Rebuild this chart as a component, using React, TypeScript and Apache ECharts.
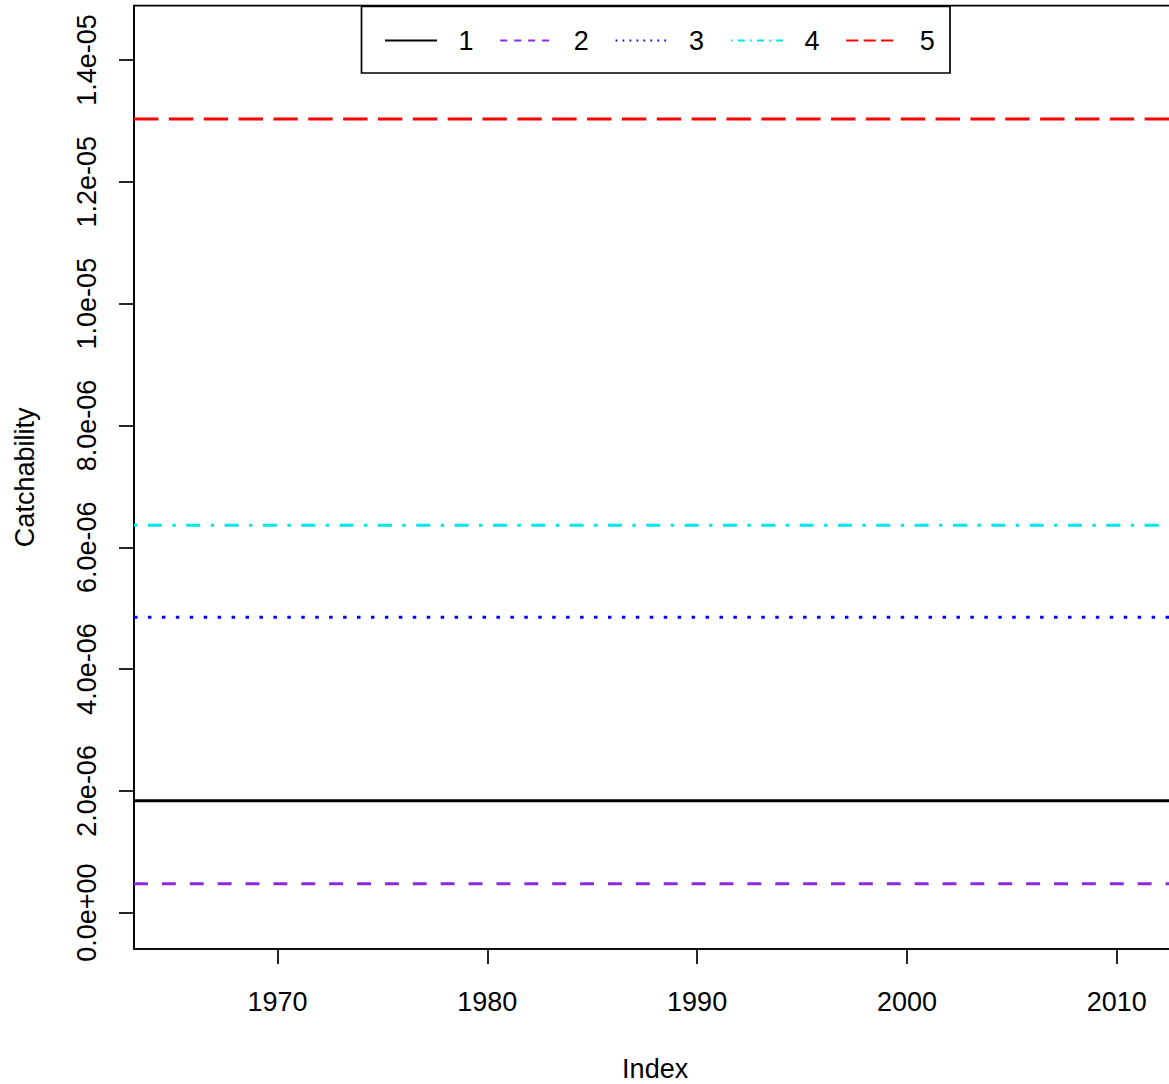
import React, { useEffect, useRef } from "react";
import * as echarts from "echarts";

// ---- data ----
const seriesNames = ["1", "2", "3", "4", "5"];
const catchability = [1.84e-6, 0.477e-6, 4.85e-6, 6.36e-6, 13.03e-6];
const seriesColors = ["#000000", "#8A2BE2", "#0000FF", "#00E5EE", "#FF0000"];
const yTicks = [0, 2e-6, 4e-6, 6e-6, 8e-6, 1e-5, 1.2e-5, 1.4e-5];
const yTickLabels = ["0.0e+00", "2.0e-06", "4.0e-06", "6.0e-06", "8.0e-06", "1.0e-05", "1.2e-05", "1.4e-05"];
const xTicks = [1970, 1980, 1990, 2000, 2010];
const xTickLabels = ["1970", "1980", "1990", "2000", "2010"];
const xMin = 1963.16;
const xMax = 2012.84;
const yMin = -0.596e-6;
const yMax = 1.4892e-5;

// R line types (in line-width units)
const ltyPatterns: (number[] | null)[] = [null, [4, 4], [1, 3], [1, 3, 4, 3], [7, 3]];

const FONT = "'Liberation Sans', Arial, sans-serif";

export default function App() {
  const ref = useRef<HTMLDivElement>(null);
  useEffect(() => {
    if (!ref.current) return;
    const chart = echarts.init(ref.current, undefined, { renderer: "svg" });
    const u = 3.485;
    const uL = 1.74;
    // horizontal reference lines (abline h=...) spanning the full x range
    const series = seriesNames.map((name, i) => ({
      name,
      type: "line",
      data: [
        [xMin, catchability[i]],
        [xMax, catchability[i]],
      ],
      symbol: "none",
      silent: true,
      lineStyle: {
        color: seriesColors[i],
        width: 3,
        type: ltyPatterns[i] ? ltyPatterns[i]!.map((d) => d * u) : "solid",
        cap: "butt",
      },
    }));

    // legend drawn as graphic
    const legendEls: any[] = [
      {
        type: "rect",
        shape: { x: 361.5, y: 6.5, width: 588.5, height: 66.5 },
        style: { fill: "#fff", stroke: "#000", lineWidth: 1.7 },
        z: 100,
      },
    ];
    seriesNames.forEach((name, i) => {
      const x0 = 385 + i * 115.3;
      legendEls.push({
        type: "line",
        shape: { x1: x0, y1: 40.5, x2: x0 + 52, y2: 40.5 },
        style: {
          stroke: seriesColors[i],
          lineWidth: 1.8,
          lineDash: ltyPatterns[i] ? ltyPatterns[i]!.map((d) => d * uL) : null,
        },
        z: 101,
      });
      legendEls.push({
        type: "text",
        x: x0 + 81,
        y: 41,
        style: {
          text: name,
          font: `27px ${FONT}`,
          fill: "#000",
          textAlign: "center",
          textVerticalAlign: "middle",
        },
        z: 101,
      });
    });

    chart.setOption({
      animation: false,
      backgroundColor: "#fff",
      grid: {
        left: 134,
        top: 5.7,
        bottom: 135,
        right: 23.7,
        show: true,
        borderColor: "#000",
        borderWidth: 1.7,
        containLabel: false,
        outerBoundsMode: "none",
      },
      xAxis: {
        type: "value",
        min: xMin,
        max: xMax,
        name: "Index",
        nameLocation: "middle",
        nameGap: 106,
        nameTextStyle: { fontFamily: FONT, fontSize: 27, color: "#000" },
        axisLine: { show: true, onZero: false, lineStyle: { color: "#000", width: 1.7 } },
        axisTick: { show: true, length: 15, customValues: xTicks, lineStyle: { color: "#000", width: 1.7 } },
        axisLabel: {
          customValues: xTicks,
          margin: 39,
          fontFamily: FONT,
          fontSize: 27,
          color: "#000",
          formatter: (v: number) => {
            const idx = xTicks.findIndex((t) => Math.abs(t - v) < 1e-6);
            return idx >= 0 ? xTickLabels[idx] : "";
          },
        },
        splitLine: { show: false },
      },
      yAxis: {
        type: "value",
        min: yMin,
        max: yMax,
        name: "Catchability",
        nameLocation: "middle",
        nameGap: 96,
        nameTextStyle: { fontFamily: FONT, fontSize: 27, color: "#000" },
        axisLine: { show: true, onZero: false, lineStyle: { color: "#000", width: 1.7 } },
        axisTick: { show: true, length: 15, customValues: yTicks, lineStyle: { color: "#000", width: 1.7 } },
        axisLabel: {
          customValues: yTicks,
          rotate: 90,
          margin: 34,
          fontFamily: FONT,
          fontSize: 27,
          color: "#000",
          formatter: (v: number) => {
            const idx = yTicks.findIndex((t) => Math.abs(t - v) < 1e-12);
            return idx >= 0 ? yTickLabels[idx] : "";
          },
        },
        splitLine: { show: false },
      },
      legend: { show: false },
      series,
      graphic: legendEls,
    });
    return () => chart.dispose();
  }, []);

  return (
    <div style={{ position: "fixed", left: 0, top: 0, width: 1169, height: 1084, overflow: "hidden", background: "#fff" }}>
      <div ref={ref} style={{ width: 1200, height: 1084 }} />
    </div>
  );
}
